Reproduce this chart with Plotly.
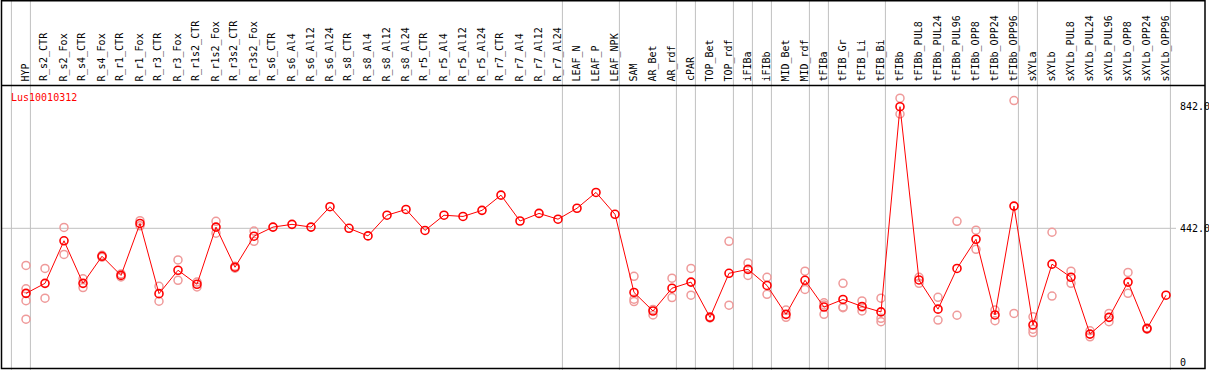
import plotly.graph_objects as go

categories = ["HYP", "R_s2_CTR", "R_s2_Fox", "R_s4_CTR", "R_s4_Fox", "R_r1_CTR", "R_r1_Fox",
              "R_r3_CTR", "R_r3_Fox", "R_r1s2_CTR", "R_r1s2_Fox", "R_r3s2_CTR", "R_r3s2_Fox",
              "R_s6_CTR", "R_s6_Al4", "R_s6_Al12", "R_s6_Al24", "R_s8_CTR", "R_s8_Al4", "R_s8_Al12",
              "R_s8_Al24", "R_r5_CTR", "R_r5_Al4", "R_r5_Al12", "R_r5_Al24", "R_r7_CTR", "R_r7_Al4",
              "R_r7_Al12", "R_r7_Al24", "LEAF_N", "LEAF_P", "LEAF_NPK", "SAM", "AR_Bet", "AR_rdf",
              "cPAR", "TOP_Bet", "TOP_rdf", "iFIBa", "iFIBb", "MID_Bet", "MID_rdf", "tFIBa",
              "tFIB_Gr", "tFIB_Li", "tFIB_Bi", "tFIBb", "tFIBb_PUL8", "tFIBb_PUL24", "tFIBb_PUL96",
              "tFIBb_OPP8", "tFIBb_OPP24", "tFIBb_OPP96", "sXYLa", "sXYLb", "sXYLb_PUL8",
              "sXYLb_PUL24", "sXYLb_PUL96", "sXYLb_OPP8", "sXYLb_OPP24", "sXYLb_OPP96"]

mean_values = [228, 261, 401, 261, 350, 287, 458, 227, 304, 258, 446, 314, 416,
               446, 455, 446, 513, 442, 417, 485, 504, 435, 485, 481, 501, 551, 466, 491, 472,
               508, 560, 488, 231, 170, 245, 265, 149, 294, 307, 254, 159, 271, 183,
               208, 185, 167, 842, 272, 176, 310, 406, 157, 515, 124, 324, 281, 94, 149, 265, 112, 222]

replicates = [[320, 243, 204, 143], [310, 212], [445, 356], [276, 247], [353, 347], [292, 282],
              [467, 450], [251, 202], [338, 271], [265, 249], [465, 426], [317, 311], [433, 399],
              [], [], [], [], [], [], [], [], [], [], [], [], [], [], [], [],
              [], [], [], [284, 209, 201], [175, 157], [278, 214], [310, 222], [151, 147],
              [399, 189], [328, 287], [281, 225], [173, 149], [301, 241], [197, 159, 190],
              [261, 183, 181], [203, 170, 183], [212, 146, 135], [870, 818], [281, 261],
              [215, 140], [465, 156], [436, 373], [173, 138], [862, 162], [151, 110, 99],
              [429, 219], [301, 261], [105, 85], [162, 135], [297, 228], [114, 110], []]

gene_label = "Lus10010312"
tick_values = [842, 442, 0]
tick_labels = ["842.0", "442.0", "0"]
separator_after = [-1, 0, 28, 31, 34, 35, 37, 38, 39, 41, 42, 45, 52, 53, 60]

W, H = 1209, 370
PX = 19.0            # pixels per category
X0 = 26.0            # pixel position of first category
xmin = -X0 / PX
xmax = xmin + W / PX
y_zero_px = 362.67
px_per_unit = 0.304
ymin = -(H - y_zero_px) / px_per_unit
ymax = y_zero_px / px_per_unit
header_px = 85.5


def px_to_x(p):
    return xmin + p / PX


def px_to_y(p):
    return ymax - p / px_per_unit


MONO = "DejaVu Sans Mono"
RED = "#ff0000"
PINK = "#ef9a9a"
GRAY = "#c0c0c0"

xs = list(range(len(categories)))

rx, ry = [], []
for i, reps in enumerate(replicates):
    for v in reps:
        rx.append(i)
        ry.append(v)

fig = go.Figure()
fig.add_trace(go.Scatter(x=rx, y=ry, mode="markers",
                         marker=dict(symbol="circle-open", size=8, color=PINK,
                                     line=dict(width=1.5, color=PINK)),
                         hoverinfo="skip", showlegend=False))
fig.add_trace(go.Scatter(x=xs, y=mean_values, mode="lines+markers",
                         line=dict(color=RED, width=1),
                         marker=dict(symbol="circle-open", size=8, color=RED,
                                     line=dict(width=1.6, color=RED)),
                         showlegend=False))

shapes = []
# vertical separators
for s in separator_after:
    xv = s + 4.4 / PX
    shapes.append(dict(type="line", xref="x", yref="paper", x0=xv, x1=xv, y0=0, y1=1,
                       line=dict(color=GRAY, width=1), layer="below"))
# horizontal grid at middle tick
shapes.append(dict(type="line", xref="x", yref="y", x0=px_to_x(1), x1=px_to_x(1176),
                   y0=tick_values[1], y1=tick_values[1],
                   line=dict(color=GRAY, width=1), layer="below"))
# header separator
shapes.append(dict(type="line", xref="x", yref="y", x0=px_to_x(1), x1=px_to_x(1205),
                   y0=px_to_y(header_px), y1=px_to_y(header_px),
                   line=dict(color="black", width=1.5)))
# border
shapes.append(dict(type="rect", xref="x", yref="y", x0=px_to_x(1.5), x1=px_to_x(1205),
                   y0=px_to_y(368.5), y1=px_to_y(0.8),
                   line=dict(color="black", width=1.5)))

annotations = []
for i, c in enumerate(categories):
    annotations.append(dict(x=i, y=px_to_y(83.5), xref="x", yref="y", text=c, showarrow=False,
                            textangle=-90, xanchor="center", yanchor="bottom", xshift=-1,
                            font=dict(family=MONO, size=10, color="black")))
annotations.append(dict(x=px_to_x(9), y=px_to_y(97), xref="x", yref="y", text=gene_label,
                        showarrow=False, xanchor="left", yanchor="middle",
                        font=dict(family=MONO, size=10, color=RED)))
for v, t in zip(tick_values, tick_labels):
    annotations.append(dict(x=px_to_x(1178), y=v, xref="x", yref="y", text=t, showarrow=False,
                            xanchor="left", yanchor="middle",
                            font=dict(family=MONO, size=10, color="black")))

fig.update_layout(
    width=W, height=H, margin=dict(l=0, r=0, t=0, b=0, pad=0),
    paper_bgcolor="white", plot_bgcolor="white",
    xaxis=dict(range=[xmin, xmax], visible=False, fixedrange=True),
    yaxis=dict(range=[ymin, ymax], visible=False, fixedrange=True),
    shapes=shapes, annotations=annotations,
)

fig.write_html("out.html", config={"displayModeBar": False, "staticPlot": True},
               post_script="document.body.style.margin='0px';")
